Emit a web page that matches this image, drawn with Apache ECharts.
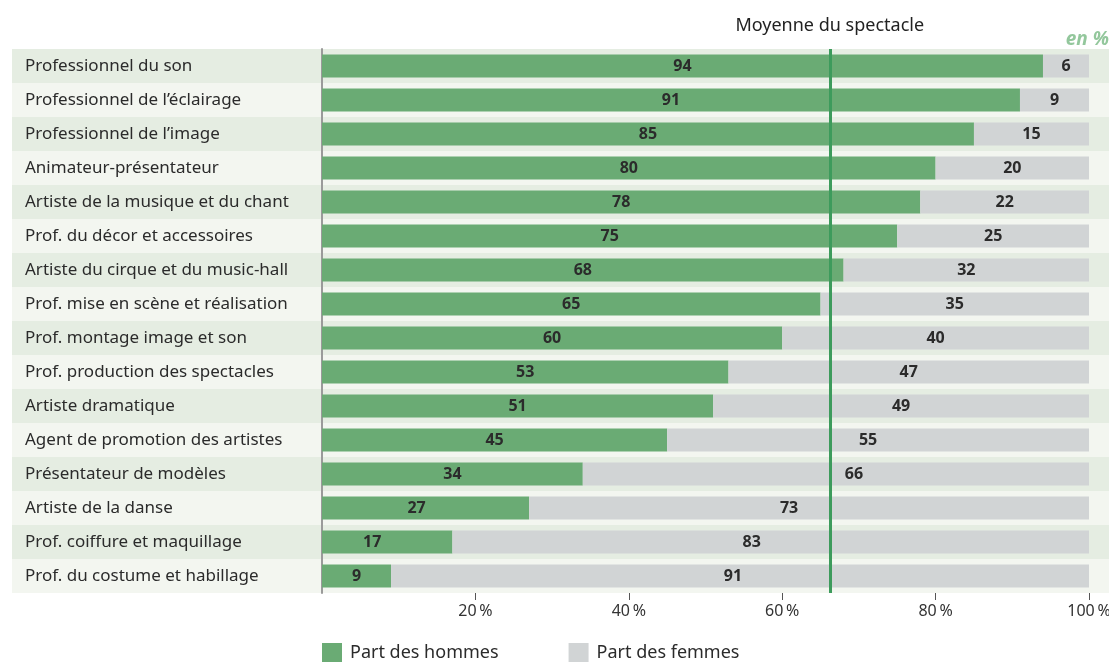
<!DOCTYPE html>
<html>
<head>
<meta charset="utf-8">
<script src="https://cdn.jsdelivr.net/npm/echarts@6/dist/echarts.min.js"></script>
<style>
  html, body { margin: 0; padding: 0; background: #fff; }
  #chart { width: 1109px; height: 662px; }
</style>
</head>
<body>
<div id="chart"></div>
<script>
// Données
const categories = [
  'Professionnel du son',
  'Professionnel de l\u2019éclairage',
  'Professionnel de l\u2019image',
  'Animateur-présentateur',
  'Artiste de la musique et du chant',
  'Prof. du décor et accessoires',
  'Artiste du cirque et du music-hall',
  'Prof. mise en scène et réalisation',
  'Prof. montage image et son',
  'Prof. production des spectacles',
  'Artiste dramatique',
  'Agent de promotion des artistes',
  'Présentateur de modèles',
  'Artiste de la danse',
  'Prof. coiffure et maquillage',
  'Prof. du costume et habillage'
]
const hommes = [94, 91, 85, 80, 78, 75, 68, 65, 60, 53, 51, 45, 34, 27, 17, 9]
const femmes = [6, 9, 15, 20, 22, 25, 32, 35, 40, 47, 49, 55, 66, 73, 83, 91]
const moyenne = 66.2
const xTicks = [20, 40, 60, 80, 100]

// décalages d'étiquettes (px) pour éviter la ligne de moyenne
const decalHommes = { 13: -9, 14: -15 }
const decalFemmes = { 11: -10, 12: 18, 13: -20, 14: -19, 15: -7 }

const FONT = 'Noto Sans'
const chart = echarts.init(document.getElementById('chart'))

const valueLabel = {
  show: true,
  position: 'inside',
  color: '#2b2b2b',
  fontWeight: 'bold',
  fontSize: 16,
  fontFamily: FONT
}

const withOffsets = (values, shifts) =>
  values.map((v, i) => shifts[i] !== undefined
    ? { value: v, label: { offset: [shifts[i], 0] } }
    : v)

chart.setOption({
  animation: false,
  textStyle: { fontFamily: FONT },
  title: {
    text: 'en %',
    right: 0,
    top: 30,
    padding: 0,
    textStyle: { color: '#93c79c', fontStyle: 'italic', fontWeight: 'bold', fontSize: 19, fontFamily: FONT }
  },
  legend: {
    left: 322,
    top: 643,
    padding: 0,
    itemWidth: 20,
    itemHeight: 19,
    itemGap: 70,
    icon: 'rect',
    textStyle: { fontSize: 18, color: '#2b2b2b', fontFamily: FONT, padding: [0, 0, 0, 3] },
    data: ['Part des hommes', 'Part des femmes']
  },
  grid: [
    // bandes de fond + libellés
    { left: 12, right: 0, top: 49, height: 544, outerBoundsMode: 'none' },
    // graphique principal
    { left: 322, right: 20, top: 49, height: 544, outerBoundsMode: 'none' }
  ],
  xAxis: [
    { gridIndex: 0, type: 'value', show: false, min: 0, max: 1 },
    {
      gridIndex: 1,
      type: 'value',
      min: 0,
      max: 100,
      interval: 20,
      axisLine: { show: false },
      splitLine: { show: false },
      axisTick: { show: true, length: 7, customValues: xTicks, lineStyle: { color: '#555' } },
      axisLabel: {
        customValues: xTicks,
        formatter: v => v + '\u202f%',
        color: '#333',
        fontSize: 16,
        margin: 10
      }
    }
  ],
  yAxis: [
    {
      gridIndex: 0,
      type: 'category',
      inverse: true,
      data: categories,
      axisLine: { show: false },
      axisTick: { show: false },
      splitLine: { show: false },
      splitArea: { show: true, areaStyle: { color: ['#e5ede2', '#f3f6f0'] } },
      axisLabel: { inside: true, margin: 13, align: 'left', color: '#2b2b2b', fontSize: 17 }
    },
    {
      gridIndex: 1,
      type: 'category',
      inverse: true,
      data: categories,
      axisLine: { show: true, lineStyle: { color: '#9a9a9a', width: 2 } },
      axisTick: { show: false },
      axisLabel: { show: false }
    }
  ],
  series: [
    {
      name: 'Part des hommes',
      type: 'bar',
      stack: 'total',
      xAxisIndex: 1,
      yAxisIndex: 1,
      barWidth: 23,
      data: withOffsets(hommes, decalHommes),
      itemStyle: { color: '#6aab74' },
      label: valueLabel,
      markLine: {
        silent: true,
        symbol: 'none',
        lineStyle: { color: '#3d9b5c', width: 3, type: 'solid' },
        label: {
          show: true,
          position: 'start',
          distance: 14,
          formatter: 'Moyenne du spectacle',
          color: '#222',
          fontSize: 18,
          fontFamily: FONT
        },
        data: [{ xAxis: moyenne }]
      }
    },
    {
      name: 'Part des femmes',
      type: 'bar',
      stack: 'total',
      xAxisIndex: 1,
      yAxisIndex: 1,
      barWidth: 23,
      data: withOffsets(femmes, decalFemmes),
      itemStyle: { color: '#d1d4d5' },
      label: valueLabel
    }
  ]
})
</script>
</body>
</html>
